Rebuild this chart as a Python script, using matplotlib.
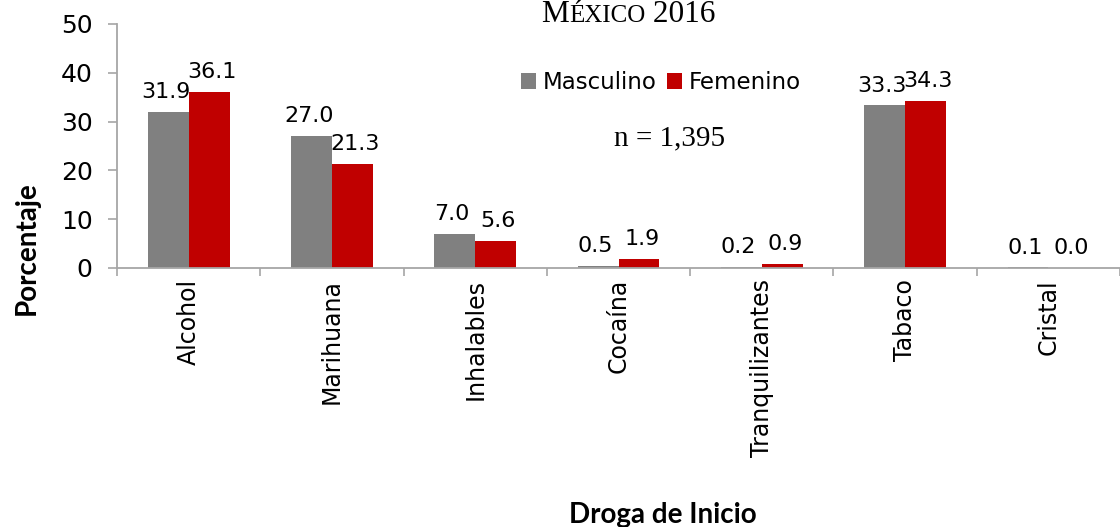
import numpy as np
import matplotlib.pyplot as plt
from matplotlib.offsetbox import TextArea, HPacker, AnchoredOffsetbox

drogas = ['Alcohol', 'Marihuana', 'Inhalables', 'Cocaína', 'Tranquilizantes', 'Tabaco', 'Cristal']
masculino = [31.9, 27.0, 7.0, 0.5, 0.2, 33.3, 0.1]
femenino = [36.1, 21.3, 5.6, 1.9, 0.9, 34.3, 0.0]

gris = '#808080'
rojo = '#C00000'
eje = '#a6a6a6'

fig = plt.figure(figsize=(11.2, 5.27), dpi=100)
ax = fig.add_axes([0.1045, 0.4915, 0.8955, 0.463])

x = np.arange(len(drogas))
w = 0.285
b1 = ax.bar(x - w / 2, masculino, w, color=gris, label='Masculino')
b2 = ax.bar(x + w / 2, femenino, w, color=rojo, label='Femenino')

# etiquetas de datos, un poco separadas entre si como en Excel
for bars, vals, dx in ((b1, masculino, -2), (b2, femenino, 2)):
    for r, v in zip(bars, vals):
        ax.annotate(f'{v:.1f}', (r.get_x() + r.get_width() / 2, r.get_height()),
                    xytext=(dx, 10), textcoords='offset points',
                    ha='center', va='baseline', fontsize=16, color='black')

ax.set_xlim(-0.5, len(drogas) - 0.5)
ax.set_ylim(0, 50)
ax.set_yticks(range(0, 51, 10))
ax.set_yticklabels([str(v) for v in range(0, 51, 10)], fontsize=18)

# etiquetas de categoria y marcas entre categorias
ax.set_xticks(x)
ax.set_xticklabels(drogas, rotation=90, fontsize=17)
ax.tick_params(axis='x', length=0, pad=8)
ax.set_xticks(np.arange(-0.5, len(drogas)), minor=True)
ax.tick_params(axis='x', which='minor', length=6, color=eje, width=1.2)
ax.tick_params(axis='y', length=6.5, color=eje, width=1.2, pad=11)

for s in ('top', 'right'):
    ax.spines[s].set_visible(False)
for s in ('left', 'bottom'):
    ax.spines[s].set_color(eje)
    ax.spines[s].set_linewidth(1.3)

ax.legend(loc='center', bbox_to_anchor=(0.5424, 0.76), ncol=2, frameon=False,
          fontsize=16.5, handlelength=0.65, handleheight=0.65, handletextpad=0.3,
          columnspacing=0.45)

# titulo en versalitas
serif = 'Liberation Serif'
partes = [TextArea('M', textprops=dict(fontsize=22.5, family=serif)),
          TextArea('ÉXICO', textprops=dict(fontsize=18, family=serif)),
          TextArea(' 2016', textprops=dict(fontsize=22.5, family=serif))]
titulo = HPacker(children=partes, align='baseline', pad=0, sep=0)
caja = AnchoredOffsetbox(loc='center', child=titulo, frameon=False,
                         bbox_to_anchor=(0.561, 0.972), bbox_transform=fig.transFigure,
                         borderpad=0, pad=0)
fig.add_artist(caja)

fig.text(0.598, 0.738, 'n = 1,395', ha='center', va='center',
         fontsize=21, family=serif)

fig.text(0.024, 0.53, 'Porcentaje', rotation=90, ha='center', va='center',
         fontsize=20, fontweight='bold', family='Lato')
fig.text(0.592, 0.022, 'Droga de Inicio', ha='center', va='center',
         fontsize=20, fontweight='bold', family='Lato')

fig.savefig('out.png', dpi=100)
